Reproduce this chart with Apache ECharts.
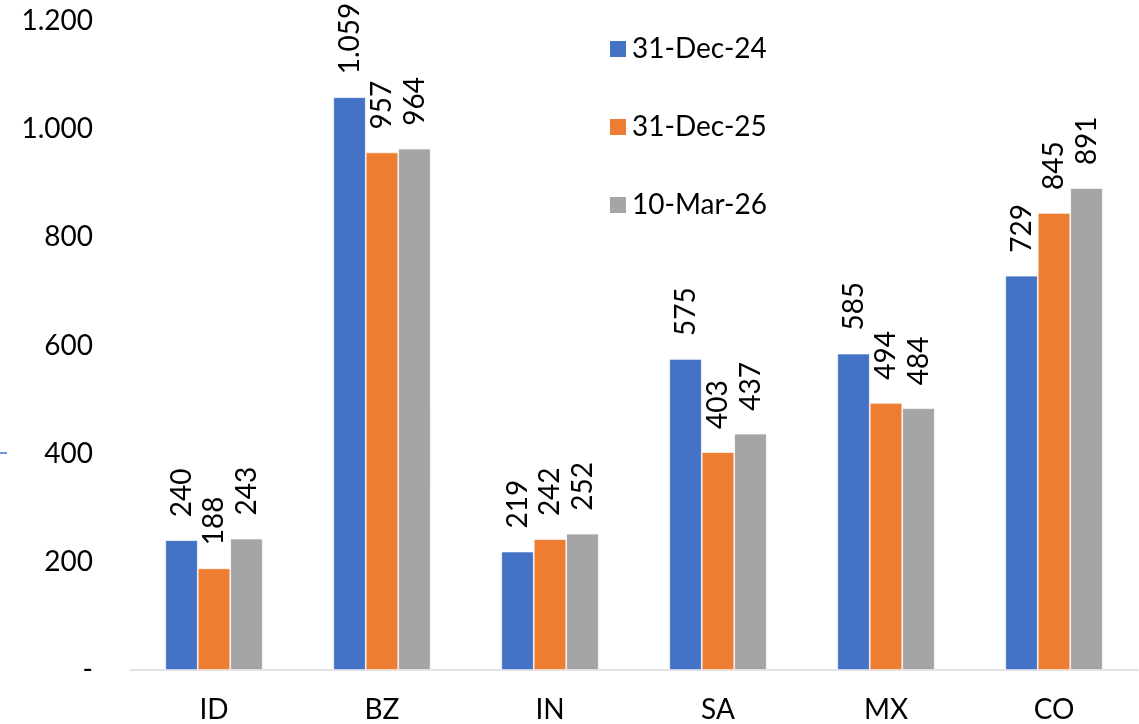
<!DOCTYPE html>
<html><head><meta charset="utf-8">
<script src="https://cdn.jsdelivr.net/npm/echarts@6/dist/echarts.min.js"></script>
<style>html,body{margin:0;padding:0;background:#fff}#c{width:1139px;height:724px}</style>
</head><body><div id="c"></div>
<script>
const categories = ['ID','BZ','IN','SA','MX','CO'];
const seriesNames = ['31-Dec-24','31-Dec-25','10-Mar-26'];
const dec24 = [240,1059,219,575,585,729];
const dec25 = [188,957,242,403,494,845];
const mar26 = [243,964,252,437,484,891];
const colors = ['#4472C4','#ED7D31','#A5A5A5'];
const FONT = 'Lato';
const FS = 28;

function fmt(v){
  if (v === 0) return '-';
  return String(v).replace(/\B(?=(\d{3})+(?!\d))/g, '.');
}
const chart = echarts.init(document.getElementById('c'));
const allData = [dec24, dec25, mar26];
chart.setOption({
  animation:false,
  textStyle:{fontFamily:FONT},
  legend:{
    orient:'vertical', left:603, top:30, itemGap:50, itemWidth:18, itemHeight:18,
    icon:'rect',
    textStyle:{fontFamily:FONT, fontSize:FS, lineHeight:28, color:'#000'},
    data:seriesNames
  },
  grid:{left:130, right:1, top:21, bottom:54, containLabel:false},
  xAxis:{
    type:'category', data:categories,
    axisLine:{lineStyle:{color:'#D9D9D9', width:1.5}},
    axisTick:{show:false},
    axisLabel:{fontFamily:FONT, fontSize:FS, color:'#000', margin:26}
  },
  yAxis:{
    type:'value', min:0, max:1200, interval:200,
    splitLine:{show:false}, axisLine:{show:false}, axisTick:{show:false},
    axisLabel:{fontFamily:FONT, fontSize:FS, color:'#000', margin:37, formatter:fmt}
  },
  graphic:[{type:'line', shape:{x1:0,y1:453,x2:7,y2:453}, style:{stroke:'#4472C4', lineWidth:1.5}}],
  series: seriesNames.map((n,i)=>({
    name:n, type:'bar', data:allData[i], barGap:'0%', barCategoryGap:'42%',
    itemStyle:{color:colors[i], borderColor:'#fff', borderWidth:0.7},
    label:{show:true, position:'top', rotate:90, align:'left', verticalAlign:'middle',
      distance:23, fontFamily:FONT, fontSize:FS, color:'#000',
      formatter:p=>fmt(p.value)}
  }))
});
</script></body></html>
